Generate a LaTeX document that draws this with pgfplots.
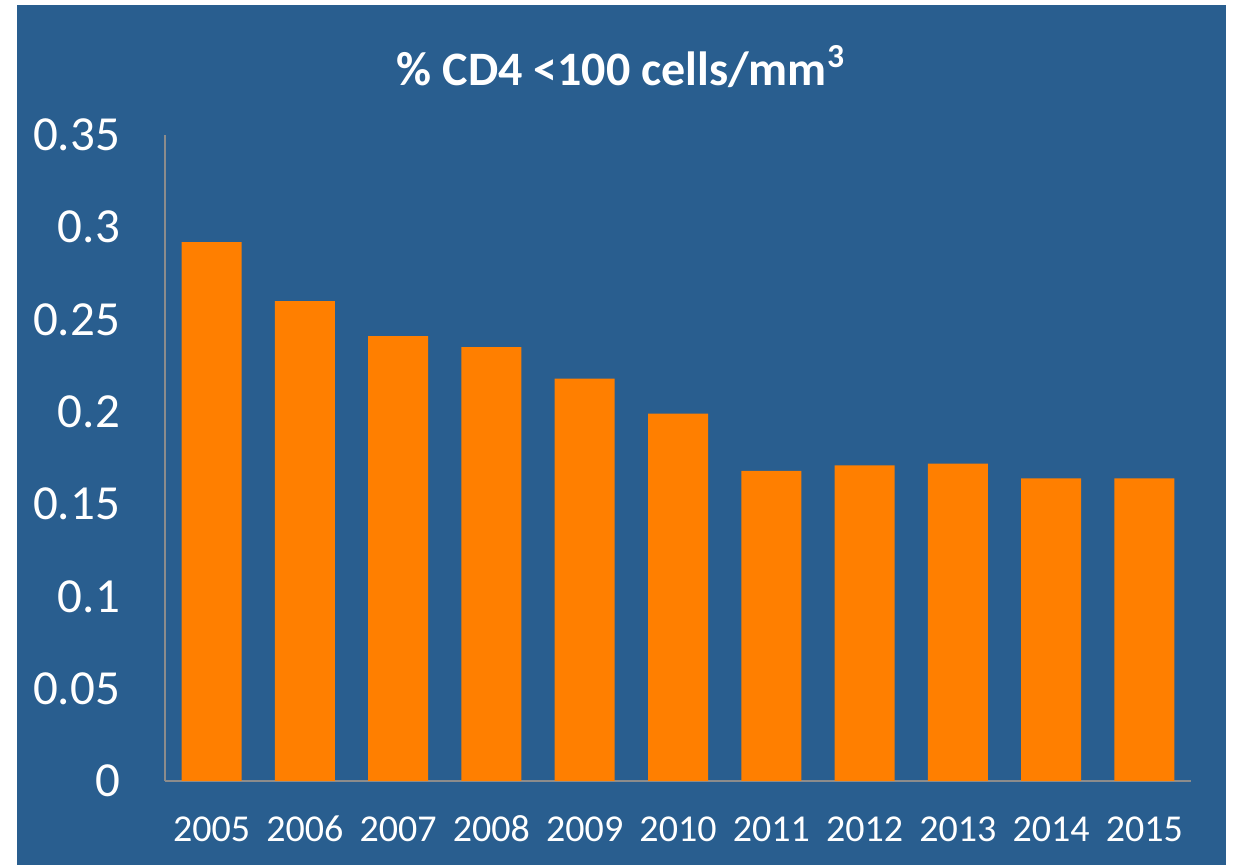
\documentclass[border=0pt]{standalone}
\usepackage{fontspec}
\setmainfont{Carlito}
\usepackage{pgfplots}
\pgfplotsset{compat=1.18}
\definecolor{bgblue}{RGB}{41,94,143}
\definecolor{barorange}{RGB}{255,127,0}
\definecolor{axgray}{RGB}{140,140,140}
\begin{document}
\begin{tikzpicture}
% page and slide background
\fill[white] (-82.5pt,-42pt) rectangle (536pt,390.5pt);
\fill[bgblue] (-74pt,-42pt) rectangle (530.5pt,388pt);
\begin{axis}[
  at={(0,0)}, anchor=south west,
  scale only axis,
  width=513pt, height=323pt,
  xmin=-0.5, xmax=10.5,
  ymin=0, ymax=0.35,
  ybar, bar width=30pt,
  axis x line=bottom, axis y line=left,
  axis line style={-, draw=axgray, line width=0.8pt},
  major tick length=0pt,
  xtick={0,...,10},
  xticklabels={2005,2006,2007,2008,2009,2010,2011,2012,2013,2014,2015},
  ytick={0,0.05,0.1,0.15,0.2,0.25,0.3,0.35},
  yticklabels={0,0.05,0.1,0.15,0.2,0.25,0.3,0.35},
  x tick label style={font=\fontsize{19}{22}\selectfont, text=white, anchor=base, yshift=-30.5pt},
  y tick label style={font=\fontsize{24.5}{28}\selectfont, text=white, xshift=-19pt},
  clip=false,
]
\addplot[fill=barorange, draw=none] coordinates {
  (0,0.292) (1,0.260) (2,0.241) (3,0.235) (4,0.218) (5,0.199)
  (6,0.168) (7,0.171) (8,0.172) (9,0.164) (10,0.164)
};
\end{axis}
\node[text=white, font=\fontsize{24}{29}\selectfont\bfseries] at (228pt,357pt)
  {\% CD4 <100 cells/mm\textsuperscript{3}};
\end{tikzpicture}
\end{document}
